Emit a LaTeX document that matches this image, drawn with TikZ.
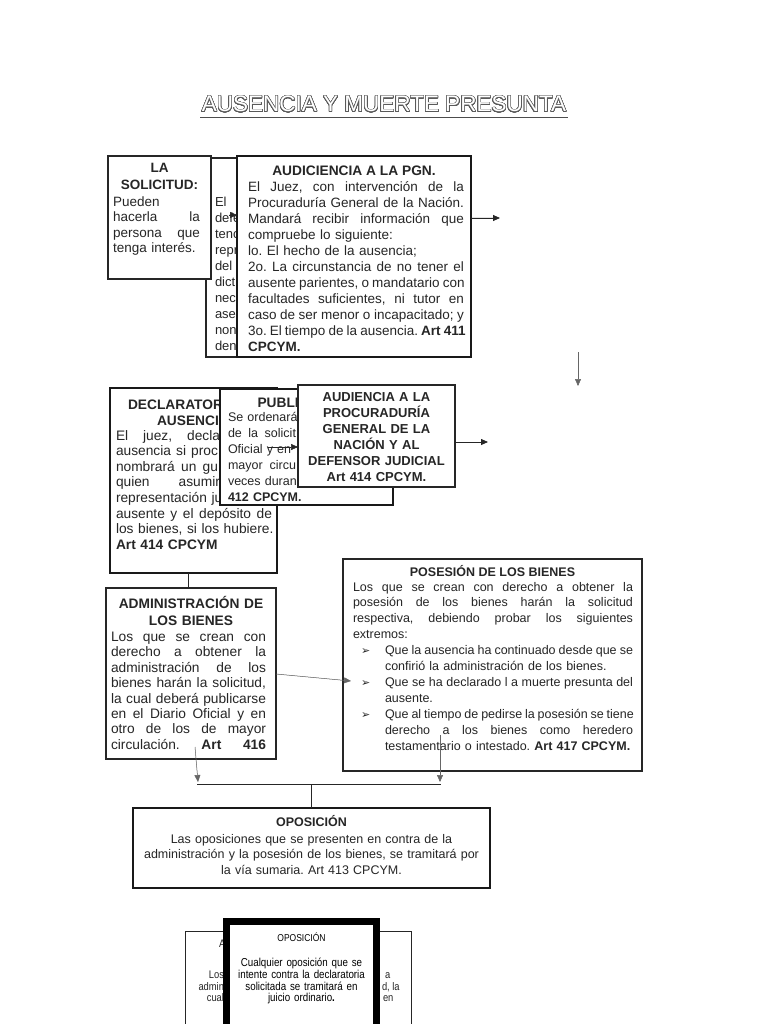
\documentclass[tikz,border=0pt]{standalone}
\usepackage{fontspec}
\setmainfont{Liberation Sans}
\newfontfamily\narrowfont[FakeStretch=0.85]{Liberation Sans}
\newfontfamily\dejavu{DejaVu Sans}
\usepackage[copies]{contour}
\usetikzlibrary{arrows.meta}
\frenchspacing
\hyphenpenalty=10000
\exhyphenpenalty=10000
\newcommand\JJ[2]{\leavevmode\hbox to #1{\spaceskip=0.28em plus 1fil minus 0.05em\relax #2}}
\newcommand\J[1]{\JJ{\hsize}{#1}}
\newcommand\Bul{\makebox[32pt][l]{\hspace*{8pt}{\dejavu\fontsize{11}{11}\selectfont ➢}}}
\contourlength{0.6pt}
\contournumber{32}
\tikzset{
  thinbox/.style={draw=black!85, line width=1.2pt, fill=white, inner sep=0pt, outer sep=0pt, anchor=north west},
  thickbox/.style={draw=black!90, line width=2.8pt, fill=white, inner sep=0pt, outer sep=0pt, anchor=north west},
  txt/.style={inner sep=0pt, outer sep=0pt, anchor=base west, align=left, text=black!85},
  rtxt/.style={inner sep=0pt, outer sep=0pt, anchor=base east, text=black!85},
  ctxt/.style={inner sep=0pt, outer sep=0pt, anchor=base, align=center, text=black!85},
  arr/.style={-{Triangle[width=6pt,length=7pt]}, line width=0.8pt, draw=black!85, fill=black!85},
  garr/.style={-{Triangle[width=6pt,length=7pt]}, line width=0.5pt, draw=black!60, fill=black!80},
  conn/.style={line width=0.9pt, draw=black!85},
}
\begin{document}
\begin{tikzpicture}[x=1pt,y=-1pt]
\useasboundingbox (0,0) rectangle (768,1024);
\fill[white] (0,0) rectangle (768,1024);
\begin{scope}
\clip (0,0) rectangle (768,1024);

% title
\node[inner sep=0pt, anchor=base, font=\fontsize{22.5}{24}\selectfont] (title) at (384,112) {\contour{black!65}{\textcolor{white}{AUSENCIA Y MUERTE PRESUNTA}}};
\coordinate (u1) at (200,117.5);
\coordinate (u2) at (568,117.5);
\draw[line width=1.1pt, black!70] (u1) -- (u2);

% hidden box behind PGN
\node[thinbox, minimum width=100, minimum height=199] (hid) at (206,158) {};
\draw[line width=2.4pt, black!85] (hid.north west) -- (hid.south west);
\begin{scope}
\clip (hid.north west) rectangle (hid.south east);
\node[txt, font=\fontsize{13}{15.95}\selectfont, text width=60] (hidtx) at (215,207) {El\\defe\\tenc\\repr\\del\\dict\\nec\\ase\\non\\den};
\end{scope}

% solicitud
\node[thinbox, minimum width=103, minimum height=123] (sol) at (108,156) {};
\node[ctxt, font=\bfseries\fontsize{13.5}{17}\selectfont, text width=100] (soltit) at (159.5,172.5) {LA\\SOLICITUD:};
\node[txt, font=\fontsize{13.5}{15.5}\selectfont, text width=87] (soltx) at (113,206.5) {Pueden\\\J{hacerla la}\\\J{persona que}\\\mbox{tenga interés.}};

% PGN
\node[thickbox, minimum width=234, minimum height=201] (pgn) at (237,156) {};
\node[ctxt, font=\bfseries\fontsize{13.75}{16}\selectfont] (pgntit) at (354,176) {AUDICIENCIA A LA PGN.};
\node[txt, font=\fontsize{13.5}{15.95}\selectfont, text width=216] (pgntx) at (248,192) {\J{El Juez, con intervención de la}\\
\J{Procuraduría General de la Nación.}\\
\J{Mandará recibir información que}\\
\mbox{compruebe lo siguiente:}\\
\mbox{lo. El hecho de la ausencia;}\\
\J{2o. La circunstancia de no tener el}\\
\J{ausente parientes, o mandatario con}\\
\J{facultades suficientes, ni tutor en}\\
\J{caso de ser menor o incapacitado; y}\\
\J{3o. El tiempo de la ausencia. \textbf{Art 411}}\\
\textbf{CPCYM.}};

\coordinate (a0) at (229,215);
\draw[arr, line width=0.5pt] (a0) -- (pgn.west |- a0);
\coordinate (a1) at (500,218);
\draw[arr] (pgn.east |- a1) -- (a1);
\coordinate (a2) at (578,352);
\coordinate (a3) at (578,386);
\draw[garr] (a2) -- (a3);

% DECLARATORIA
\node[thickbox, minimum width=167, minimum height=185] (decl) at (110,388) {};
\node[txt, font=\bfseries\fontsize{13.75}{15.8}\selectfont] (decltit) at (128,409) {DECLARATOR};
\node[txt, font=\bfseries\fontsize{13.75}{15.8}\selectfont] (decltit2) at (157,425) {AUSENCI};
\node[txt, font=\fontsize{13.75}{15.6}\selectfont, text width=160] (decltx) at (116,440) {\JJ{104pt}{El juez, decla}\\
\JJ{102pt}{ausencia si proc}\\
\JJ{102pt}{nombrará un gu}\\
\JJ{104pt}{quien asumir}\\
\mbox{representación ju}\\
\JJ{156pt}{ausente y el depósito de}\\
\mbox{los bienes, si los hubiere.}\\
\textbf{Art 414 CPCYM}};

% PUBLICACION
\node[thickbox, minimum width=173, minimum height=116] (pub) at (220,389) {};
\node[txt, font=\bfseries\fontsize{13.75}{16}\selectfont] (pubtit) at (257.5,407) {PUBLI};
\begin{scope}
\clip (pub.north west) rectangle (pub.south east);
\node[txt, font=\fontsize{12.5}{16}\selectfont, text width=157] (pubtx) at (228,421) {\mbox{Se ordenará}\\
\JJ{68pt}{de la solicit}\\
\JJ{63pt}{Oficial y en}\\
\JJ{68pt}{mayor circu}\\
\mbox{veces duran}\\
\textbf{412 CPCYM.}};
\end{scope}
\draw[line width=2.8pt, black!90] (pub.north west) rectangle (pub.south east);

% AUDIENCIA
\node[thinbox, line width=1.4pt, minimum width=157, minimum height=102] (aud) at (298,385) {};
\node[ctxt, font=\bfseries\fontsize{13}{16}\selectfont, text width=154] (audtx) at (376.5,401.5) {AUDIENCIA A LA\\PROCURADURÍA\\GENERAL DE LA\\NACIÓN Y AL\\DEFENSOR JUDICIAL\\Art 414 CPCYM.};
\coordinate (a4) at (488,442);
\draw[arr] (aud.east |- a4) -- (a4);
\coordinate (a5) at (268,447);
\draw[arr, line width=0.5pt] (a5) -- (aud.west |- a5);

% ADMINISTRACION
\node[thinbox, minimum width=170, minimum height=171] (adm) at (106,588) {};
\node[ctxt, font=\bfseries\fontsize{13.75}{16.5}\selectfont, text width=165] (admtit) at (191,608.5) {ADMINISTRACIÓN DE\\LOS BIENES};
\node[txt, font=\fontsize{13.75}{15.4}\selectfont, text width=155] (admtx) at (111,641.5) {\J{Los que se crean con}\\
\J{derecho a obtener la}\\
\J{administración de los}\\
\J{bienes harán la solicitud,}\\
\J{la cual deberá publicarse}\\
\J{en el Diario Oficial y en}\\
\J{otro de los de mayor}\\
\J{circulación. \textbf{Art 416}}};
\coordinate (c1) at (188,580);
\draw[conn] (c1 |- decl.south) -- (c1 |- adm.north);

% POSESION
\node[thinbox, minimum width=299, minimum height=212] (pos) at (343,559) {};
\node[ctxt, font=\bfseries\fontsize{12.5}{16}\selectfont] (postit) at (492.5,576.5) {POSESIÓN DE LOS BIENES};
\node[txt, font=\fontsize{12.5}{15.9}\selectfont, text width=282] (postx) at (353,591) {\JJ{280pt}{Los que se crean con derecho a obtener la}\\
\JJ{280pt}{posesión de los bienes harán la solicitud}\\
\JJ{280pt}{respectiva, debiendo probar los siguientes}\\
\mbox{extremos:}\\
\Bul\JJ{248pt}{Que la ausencia ha continuado desde que se}\\
\hspace*{32pt}\mbox{confirió la administración de los bienes.}\\
\Bul\JJ{248pt}{Que se ha declarado l a muerte presunta del}\\
\hspace*{32pt}\mbox{ausente.}\\
\Bul\JJ{248pt}{Que al tiempo de pedirse la posesión se tiene}\\
\hspace*{32pt}\JJ{248pt}{derecho a los bienes como heredero}\\
\hspace*{32pt}\mbox{testamentario o intestado. \textbf{Art 417 CPCYM.}}};

\coordinate (b0) at (0,674);
\coordinate (b1) at (351,681);
\draw[garr] (adm.east |- b0) -- (b1);

% bottom connectors
\coordinate (L1) at (195,747);
\coordinate (L2) at (198,782);
\coordinate (R1) at (440,735);
\coordinate (R2) at (440,782);
\draw[garr] (L1) -- (L2);
\draw[garr] (R1) -- (R2);

% OPOSICION
\node[thickbox, line width=2.5pt, minimum width=357, minimum height=80] (opo) at (133,808) {};
\coordinate (H1) at (197,784);
\coordinate (H2) at (441,784);
\draw[conn] (H1) -- (H2);
\draw[conn] (opo.north |- H1) -- (opo.north);
\node[ctxt, font=\bfseries\fontsize{12.5}{16}\selectfont] (opotit) at (311.5,826.5) {OPOSICIÓN};
\node[ctxt, font=\fontsize{12.5}{15.5}\selectfont, text width=355] (opotx) at (311.5,843) {Las oposiciones que se presenten en contra de la\\administración y la posesión de los bienes, se tramitará por\\la vía sumaria. Art 413 CPCYM.};

% bottom overlapping boxes
\node[thinbox, line width=1pt, minimum width=226, minimum height=130] (bk) at (185,931) {};
\node[txt, font=\narrowfont\fontsize{11}{12}\selectfont] (bktit) at (219,947) {A};
\node[rtxt, font=\narrowfont\fontsize{11}{12}\selectfont] (bkl1) at (224,978.3) {Los};
\node[rtxt, font=\narrowfont\fontsize{11}{12}\selectfont] (bkl2) at (224,990.1) {admin};
\node[rtxt, font=\narrowfont\fontsize{11}{12}\selectfont] (bkl3) at (224,1001.9) {cual};
\node[txt, font=\narrowfont\fontsize{11}{12}\selectfont] (bkr1) at (385,978.3) {a};
\node[txt, font=\narrowfont\fontsize{11}{12}\selectfont] (bkr2) at (382,990.1) {d, la};
\node[txt, font=\narrowfont\fontsize{11}{12}\selectfont] (bkr3) at (383,1001.9) {en};
\node[draw=black, line width=7pt, fill=white, inner sep=0pt, outer sep=0pt, anchor=north west, minimum width=150, minimum height=140] (blk) at (226.5,921.5) {};
\node[ctxt, text=black, font=\narrowfont\fontsize{10}{12}\selectfont] (blktit) at (301.5,941.5) {OPOSICIÓN};
\node[ctxt, text=black, font=\narrowfont\fontsize{11.5}{11.8}\selectfont, text width=145] (blktx) at (301.5,966.5) {Cualquier oposición que se\\intente contra la declaratoria\\solicitada se tramitará en\\juicio ordinario\textbf{.}};
\end{scope}
\end{tikzpicture}
\end{document}
